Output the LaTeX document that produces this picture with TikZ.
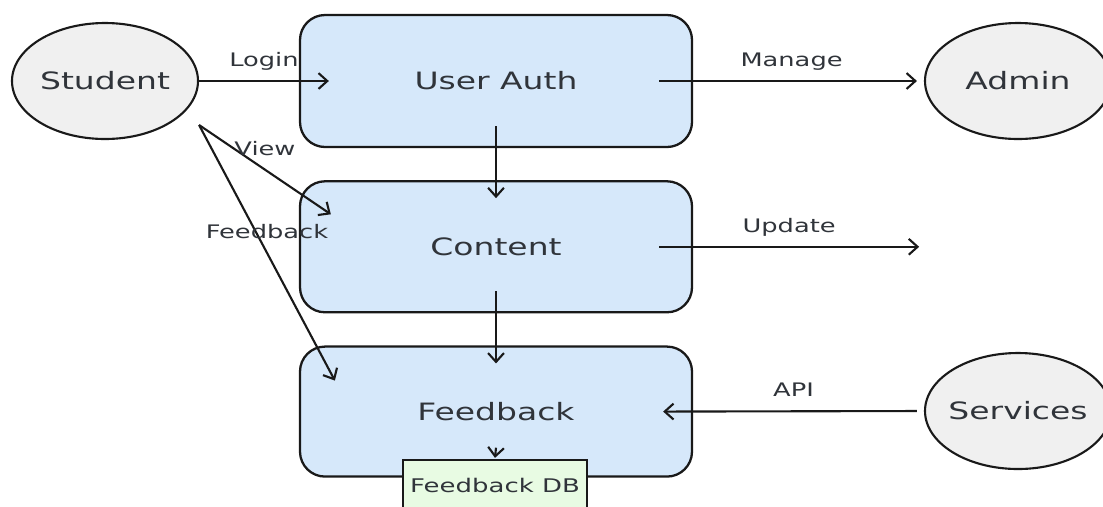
\documentclass[tikz,border=0pt]{standalone}
\usepackage{fontspec}
\setmainfont{DejaVu Sans}[FakeStretch=1.38]
\usetikzlibrary{positioning,arrows.meta,shapes.geometric}
\definecolor{boxblue}{RGB}{214,232,250}
\definecolor{entgray}{RGB}{240,240,240}
\definecolor{dbgreen}{RGB}{232,251,227}
\definecolor{linedark}{RGB}{25,25,25}
\definecolor{txtdark}{RGB}{48,52,58}

\begin{document}
\begin{tikzpicture}[
    proc_box/.style={
        draw=linedark,fill=boxblue,rounded corners=.5cm,line width=1.3pt,
        minimum width=7.84cm,minimum height=2.62cm,text=txtdark,
        font=\fontsize{13.6}{16}\selectfont,
    },
    ext_ent/.style={
        ellipse,draw=linedark,fill=entgray,line width=1.2pt,
        inner sep=0pt,inner xsep=-1.5cm,
        minimum width=3.72cm,minimum height=2.32cm,text=txtdark,
        font=\fontsize{13.6}{16}\selectfont,
    },
    db_box/.style={
        draw=linedark,fill=dbgreen,line width=1.3pt,
        minimum width=3.68cm,minimum height=1cm,text=txtdark,
        font=\fontsize{10.7}{13}\selectfont,
    },
    arrow/.style={
        -{Straight Barb[length=5pt,width=9pt]},line width=1.2pt,draw=linedark,
    },
    edge_lab/.style={
        midway,anchor=base,yshift=.29cm,inner sep=0pt,text=txtdark,
        font=\fontsize{10.6}{13}\selectfont,
    },
    node distance=.64cm
]
    \useasboundingbox (0,0) rectangle (22.06,-10.12);

    \node[ext_ent] at (2.10,-1.62) (student){Student};
    \node[ext_ent] at (20.36,-1.62) (admin){Admin};
    \node[ext_ent] at (20.36,-8.22) (services){Services};

    \node[proc_box,minimum height=2.64cm] at (9.92,-1.62) (auth){User Auth};
    \node[proc_box,below=of auth](content){Content};
    \node[proc_box,minimum height=2.6cm,below=of content](feedback){Feedback};
    \node[db_box] at (9.90,-9.70) (db){Feedback DB};

    \coordinate (st) at ([yshift=-.88cm]student.east);
    \coordinate (upd) at ([xshift=4.52cm]content.east);

    \draw [arrow](student.east) -- node[edge_lab]{Login} ([xshift=.6cm]auth.west);
    \draw [arrow,shorten >=.14cm]([xshift=-.68cm]auth.east) -- node[edge_lab]{Manage} (admin.west);
    \draw [arrow]([yshift=.44cm]auth.south) -- ([yshift=-.36cm]content.north);
    \draw [arrow]([yshift=.44cm]content.south) -- ([yshift=-.36cm]feedback.north);
    \draw [arrow](st) -- node[edge_lab]{View} ([xshift=.64cm,yshift=.65cm]content.west);
    \draw [arrow](st) -- node[edge_lab]{Feedback} ([xshift=.72cm,yshift=.62cm]feedback.west);
    \draw [arrow]([xshift=-.68cm]content.east) -- node[edge_lab]{Update} (upd);
    \draw [arrow,shorten <=.14cm](services.west) -- node[edge_lab]{API} ([xshift=-.6cm]feedback.east);
    \draw [arrow]([yshift=.6cm]feedback.south) -- ([yshift=.02cm]db.north);

\end{tikzpicture}
\end{document}
